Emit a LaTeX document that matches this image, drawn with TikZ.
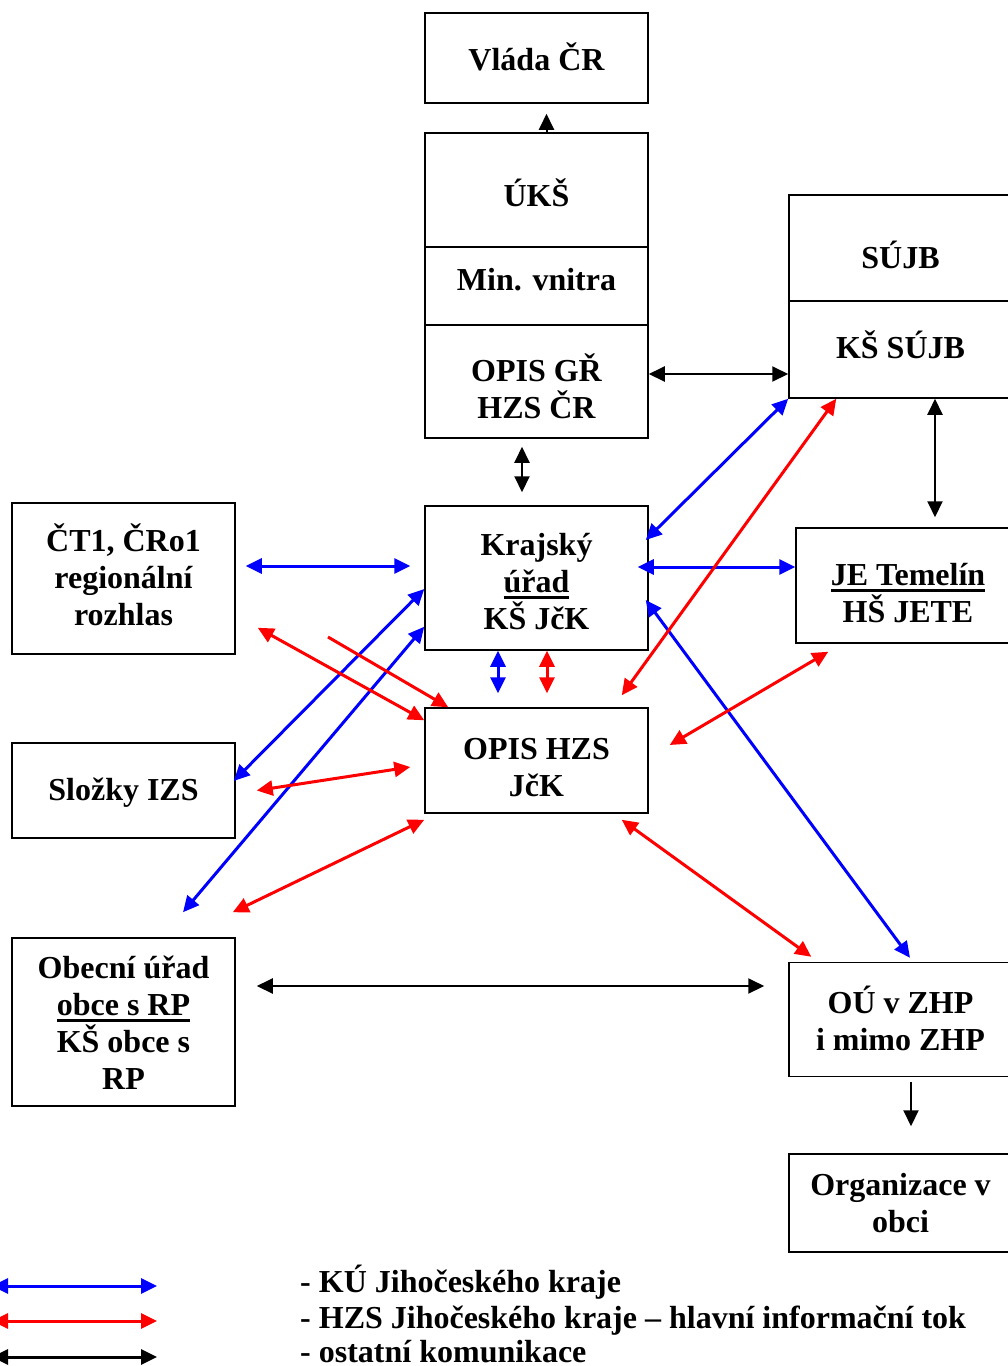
\documentclass[tikz,border=0pt]{standalone}
\usepackage{fontspec}
\setmainfont{Liberation Serif}
\usetikzlibrary{arrows.meta,calc}

\newsavebox\ulsave
\newcommand\ulword[1]{\sbox\ulsave{#1}\rlap{\rule[-6pt]{\wd\ulsave}{3pt}}\usebox\ulsave}

\begin{document}
\begin{tikzpicture}[x=1pt,y=-1pt,>={Triangle[length=16pt,width=15pt]},
		box/.style={draw, line width=1.5pt, minimum width=223pt, inner sep=0pt},
		txt/.style={inner sep=0pt, align=center, font=\bfseries\fontsize{32}{37}\selectfont},
		legtext/.style={anchor=base west, inner sep=0pt, font=\bfseries\fontsize{32}{37}\selectfont},
		bl/.style={blue, line width=3pt, <->},
		rd/.style={red, line width=3pt, <->},
		bk/.style={black, line width=2pt, <->}]
	\useasboundingbox (0,0) rectangle (1008,1366);
	% Central column
	\node[box, minimum height=90pt] (vlada) at (536.5,58) {};
	\node[box, minimum height=114pt] (uks) at (536.5,190) {};
	\node[box, minimum height=78pt] (mv) at (536.5,286) {};
	\node[box, minimum height=113pt] (opisgr) at (536.5,381.5) {};
	\node[box, minimum height=144pt] (kraj) at (536.5,578) {};
	\node[box, minimum height=105pt] (opishzs) at (536.5,760.5) {};
	\node[txt] (vlada-t) at ($(vlada)+(0,-1)$) {Vláda ČR};
	\node[txt] (uks-t) at ($(uks)+(0,3)$) {ÚKŠ};
	\node[txt] (mv-t) at ($(mv)+(0,-6)$) {Min. vnitra};
	\node[txt] (opisgr-t) at ($(opisgr)+(0,5)$) {OPIS GŘ\\HZS ČR};
	\node[txt] (kraj-t) at ($(kraj)+(0,4)$) {Krajský\\\ulword{úřad}\\KŠ JčK};
	\node[txt] (opishzs-t) at ($(opishzs)+(0,7)$) {OPIS HZS\\JčK};
	% Left column
	\node[box, minimum height=151pt] (ct) at (123.5,578.5) {};
	\node[box, minimum height=95pt] (izs) at (123.5,790.5) {};
	\node[box, minimum height=168pt] (obec) at (123.5,1022) {};
	\node[txt] (ct-t) at ($(ct)+(0,-4)$) {ČT1, ČRo1\\regionální\\rozhlas};
	\node[txt] (izs-t) at ($(izs)+(0,2)$) {Složky IZS};
	\node[txt] (obec-t) at ($(obec)+(0,1)$) {Obecní úřad\\\ulword{obce s RP}\\KŠ obce s\\RP};
	% Right column
	\node[box, minimum height=106pt] (sujb) at (900.5,248) {};
	\node[box, minimum height=97pt] (kssujb) at (900.5,349.5) {};
	\node[box, minimum height=115pt, minimum width=224pt] (je) at (908,585.5) {};
	\node[box, minimum height=114pt] (ou) at (900.5,1019.5) {};
	\node[box, minimum height=98pt] (org) at (900.5,1203) {};
	\node[txt] (sujb-t) at ($(sujb)+(0,7)$) {SÚJB};
	\node[txt] (kssujb-t) at ($(kssujb)+(0,-5)$) {KŠ SÚJB};
	\node[txt] (je-t) at ($(je)+(0,8)$) {\ulword{JE Temelín}\\HŠ JETE};
	\node[txt] (ou-t) at ($(ou)+(0,-1)$) {OÚ v ZHP\\i mimo ZHP};
	\node[txt] (org-t) at (org) {Organizace v\\obci};
	% Black links
	\draw[bk, ->] ($(uks.north)+(10,0)$) -- ($(vlada.south)+(10,10)$);
	\draw[bk] ($(opisgr.south)+(-14.5,8)$) -- ($(kraj.north)+(-14.5,-13)$);
	\draw[bk] ($(opisgr.east)+(0,-7.5)$) -- ($(kssujb.west)+(0,24.5)$);
	\draw[bk] ($(kssujb.south)+(34.5,0)$) -- ($(je.north)+(27,-10)$);
	\draw[bk] ($(obec.east)+(21,-36)$) -- ($(ou.west)+(-24,-33.5)$);
	\draw[bk, ->] ($(ou.south)+(10.5,5)$) -- ($(org.north)+(10.5,-27)$);
	% Blue links (KU)
	\draw[bl] ($(ct.east)+(10,-12.5)$) -- ($(kraj.west)+(-14,-12)$);
	\draw[bl] ($(kraj.east)+(-11,-11)$) -- ($(je.west)+(0,-18.5)$);
	\draw[bl] ($(kraj.east)+(-3,-38)$) -- (kssujb.south west);
	\draw[bl] ($(kraj.east)+(-3,22)$) -- ($(ou.north)+(9.5,-4)$);
	\draw[bl] ($(izs.east)+(-2,-9.5)$) -- ($(kraj.west)+(0,11)$);
	\draw[bl] ($(obec.north)+(59.5,-25)$) -- ($(kraj.south west)+(0,-24)$);
	\draw[bl] ($(kraj.south)+(-38.5,0)$) -- ($(opishzs.north)+(-38.5,-14)$);
	% Red links (HZS)
	\coordinate (rfree) at (328,637);
	\draw[rd] ($(kraj.south)+(10.5,0)$) -- ($(opishzs.north)+(10.5,-14)$);
	\draw[rd] ($(ct.south east)+(22,-27)$) -- ($(opishzs.north west)+(0,13)$);
	\draw[rd, ->] (rfree) -- ($(opishzs.north west)+(24,0)$);
	\draw[rd] ($(izs.east)+(21,0)$) -- ($(opishzs.west)+(-14,6.5)$);
	\draw[rd] ($(obec.north east)+(-3,-25)$) -- ($(opishzs.south west)+(0,6)$);
	\draw[rd] ($(opishzs.north east)+(-27,-12)$) -- ($(kssujb.south west)+(48,0)$);
	\draw[rd] ($(opishzs.east)+(21,-15.5)$) -- ($(je.south west)+(33,8)$);
	\draw[rd] ($(opishzs.south east)+(-27,6)$) -- ($(ou.north west)+(23,-5)$);
	% Manual legend
	\coordinate (lb0) at (-8,1286); \coordinate (lb1) at (157,1286);
	\coordinate (lr0) at (-8,1321); \coordinate (lr1) at (157,1321);
	\coordinate (lk0) at (-8,1357); \coordinate (lk1) at (157,1357);
	\draw[bl] (lb0) -- (lb1);
	\draw[rd] (lr0) -- (lr1);
	\draw[bk, line width=3pt] (lk0) -- (lk1);
	\node[legtext] (legku) at (300,1292) {- KÚ Jihočeského kraje};
	\node[legtext] (leghzs) at (300,1328) {- HZS Jihočeského kraje – hlavní informační tok};
	\node[legtext] (legost) at (300,1362) {- ostatní komunikace};
\end{tikzpicture}
\end{document}
